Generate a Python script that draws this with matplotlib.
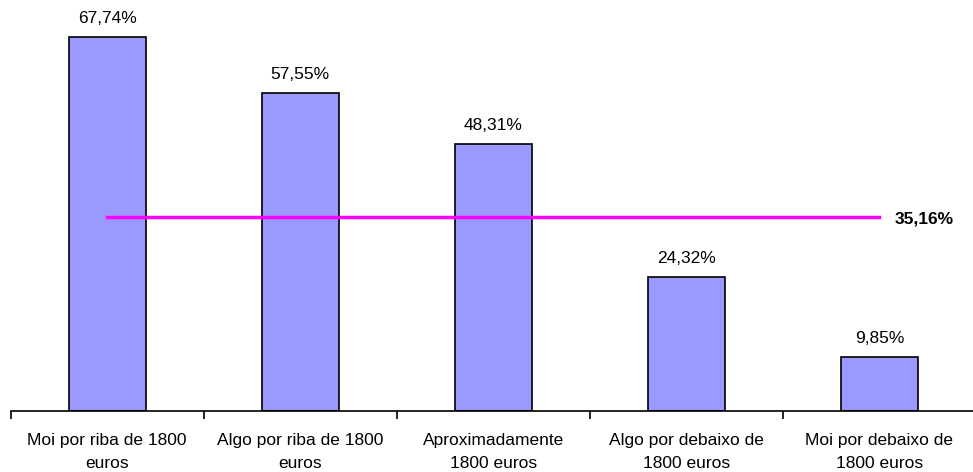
import matplotlib.pyplot as plt
import numpy as np

categories = ["Moi por riba de 1800\neuros", "Algo por riba de 1800\neuros",
              "Aproximadamente\n1800 euros", "Algo por debaixo de\n1800 euros",
              "Moi por debaixo de\n1800 euros"]
values = [67.74, 57.55, 48.31, 24.32, 9.85]
labels = ["67,74%", "57,55%", "48,31%", "24,32%", "9,85%"]
average = 35.16
average_label = "35,16%"

plt.rcParams['font.family'] = ['Liberation Sans', 'DejaVu Sans']

fig = plt.figure(figsize=(9.73, 4.72), dpi=100)
ax = fig.add_axes([0.011, 61 / 472, 0.992, 411 / 472])

x = np.arange(len(values))
ax.bar(x, values, width=0.4, color='#9999FF', edgecolor='black', linewidth=1.2, zorder=2)
for xi, v, lab in zip(x, values, labels):
    ax.text(xi, v + 2.0, lab, ha='center', va='bottom', fontsize=12.5)

ax.plot([x[0], x[-1]], [average, average], color='#FF00FF', linewidth=2.5, zorder=3)
ax.text(x[-1] + 0.08, average - 0.4, average_label, ha='left', va='center',
        fontsize=12.5, fontweight='bold')

ax.set_xlim(-0.5, 4.5)
ax.set_ylim(0, 74.4)
ax.set_yticks([])
ax.set_xticks(x)
ax.set_xticklabels(categories, fontsize=12.5, linespacing=1.65)
ax.set_xticks(np.arange(-0.5, 5.0, 1.0), minor=True)
ax.tick_params(axis='x', which='major', length=0, pad=16)
ax.tick_params(axis='x', which='minor', length=6, width=1.2, direction='out')
for s in ['top', 'right', 'left']:
    ax.spines[s].set_visible(False)
ax.spines['bottom'].set_linewidth(1.2)

fig.savefig('out.png', dpi=100)
